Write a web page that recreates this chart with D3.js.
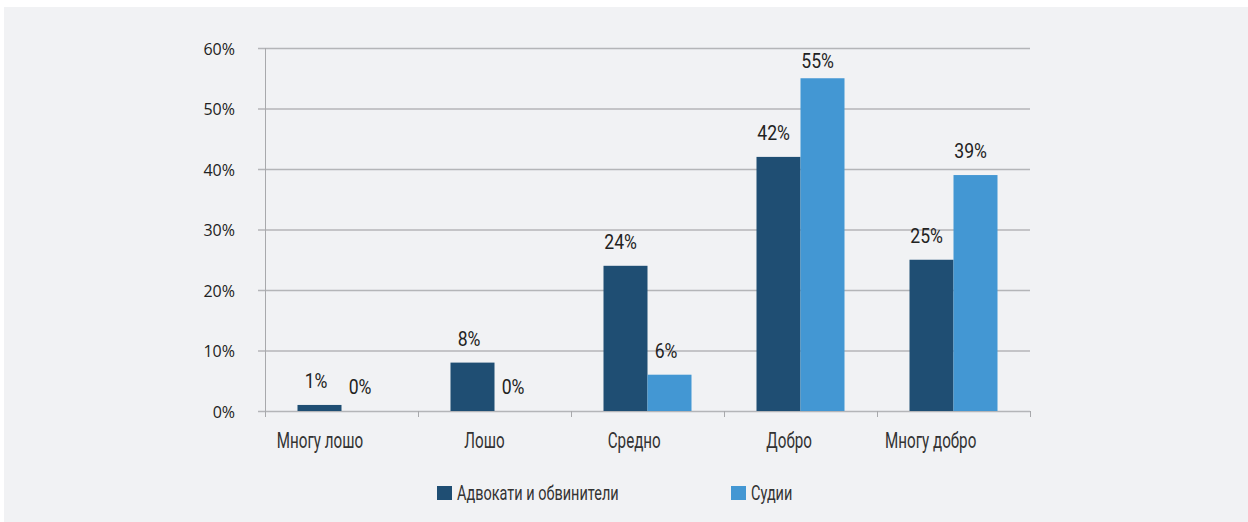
<!DOCTYPE html>
<html><head><meta charset="utf-8">
<script src="https://cdn.jsdelivr.net/npm/d3@7"></script>
<style>html,body{margin:0;padding:0;background:#fff;}</style>
</head><body>
<svg id="c" width="1248" height="522"></svg>
<script>
const categories = ["Многу лошо", "Лошо", "Средно", "Добро", "Многу добро"];
const seriesNames = ["Адвокати и обвинители", "Судии"];
const lawyers = [1, 8, 24, 42, 25];
const judges = [0, 0, 6, 55, 39];
const yTicks = [0, 10, 20, 30, 40, 50, 60];
const colors = ["#1f4e73", "#4397d3"];

(function(){
const svg = d3.select("#c");
const condFont = "Roboto,'Noto Sans',sans-serif";
const SX_TXT = 0.69, SX_NUM = 0.88;
svg.append("rect").attr("x",4).attr("y",7).attr("width",1244).attr("height",515).attr("fill","#f1f2f4");

const pLeft = 265, pRight = 1030, pTop = 48, pBottom = 411;
const x = d3.scaleBand().domain(categories).range([pLeft, pRight]).paddingInner(0).paddingOuter(0);
const y = d3.scaleLinear().domain([0, 60]).range([pBottom, pTop]);
const barW = 44;
const xs = d3.scaleBand().domain([0,1]).range([0, barW*2]);

// place a condensed text: g at (cx, by), text scaled; shift left by k * scaled width
function condText(parent, cx, by, str, size, sx, k, fill) {
  const g = parent.append("g");
  const t = g.append("text").attr("font-family", condFont).attr("font-size", size)
    .attr("fill", fill).attr("transform", `scale(${sx},1)`).text(str);
  const w = t.node().getComputedTextLength() * sx;
  g.attr("transform", `translate(${cx - k * w},${by})`);
  return g;
}

// gridlines
svg.append("g").selectAll("line").data(yTicks).join("line")
  .attr("x1", 258).attr("x2", pRight)
  .attr("y1", d => y(d)+0.5).attr("y2", d => y(d)+0.5)
  .attr("stroke", "#b4b5b8").attr("stroke-width", 1.3);

// y axis line
svg.append("line").attr("x1", pLeft+0.5).attr("x2", pLeft+0.5).attr("y1", pTop).attr("y2", pBottom+1)
  .attr("stroke", "#a8a9ac").attr("stroke-width", 1);

// y tick labels
const yAxis = d3.axisLeft(y).tickValues(yTicks).tickFormat(d => d + "%").tickSize(0).tickPadding(0);
const ya = svg.append("g").attr("transform", `translate(235,0)`).call(yAxis);
ya.select(".domain").remove();
ya.selectAll("text").attr("font-family", "'Open Sans','DejaVu Sans',sans-serif").attr("font-size", 16).attr("fill", "#222").attr("dy","0.38em");

// x axis ticks
const xEdges = categories.map(c => x(c)).concat([pRight]);
svg.append("g").selectAll("line").data(xEdges).join("line")
  .attr("x1", d => d+0.5).attr("x2", d => d+0.5).attr("y1", pBottom).attr("y2", pBottom+6)
  .attr("stroke", "#a8a9ac");

// category labels
const xl = svg.append("g");
categories.forEach(c => condText(xl, x(c) + x.bandwidth()/2, pBottom + 37, c, 22, SX_TXT, 0.75, "#333"));

// bars
const data = [lawyers, judges];
const groupOffset = (x.bandwidth() - barW*2) / 2;
data.forEach((vals, si) => {
  const g = svg.append("g");
  const rows = vals.map((v,i)=>({v, c: categories[i]}));
  g.selectAll("rect").data(rows).join("rect")
    .attr("x", d => x(d.c) + groupOffset + xs(si))
    .attr("width", barW)
    .attr("y", d => y(d.v))
    .attr("height", d => pBottom - y(d.v))
    .attr("fill", colors[si]);
  rows.forEach(d => {
    const cx = x(d.c) + groupOffset + xs(si) + barW/2;
    const by = Math.max(y(d.v) - 17, pTop + 20);
    condText(g, cx, by, d.v + "%", 20, SX_NUM, 0.65, "#222");
  });
});

// legend
const legendX = [437, 731];
seriesNames.forEach((n, i) => {
  svg.append("rect").attr("x", legendX[i]).attr("y", 486).attr("width", 15).attr("height", 14).attr("fill", colors[i]);
  condText(svg, legendX[i] + 20, 500, n, 21, SX_TXT, 0, "#333");
});
})();
</script>
</body></html>
